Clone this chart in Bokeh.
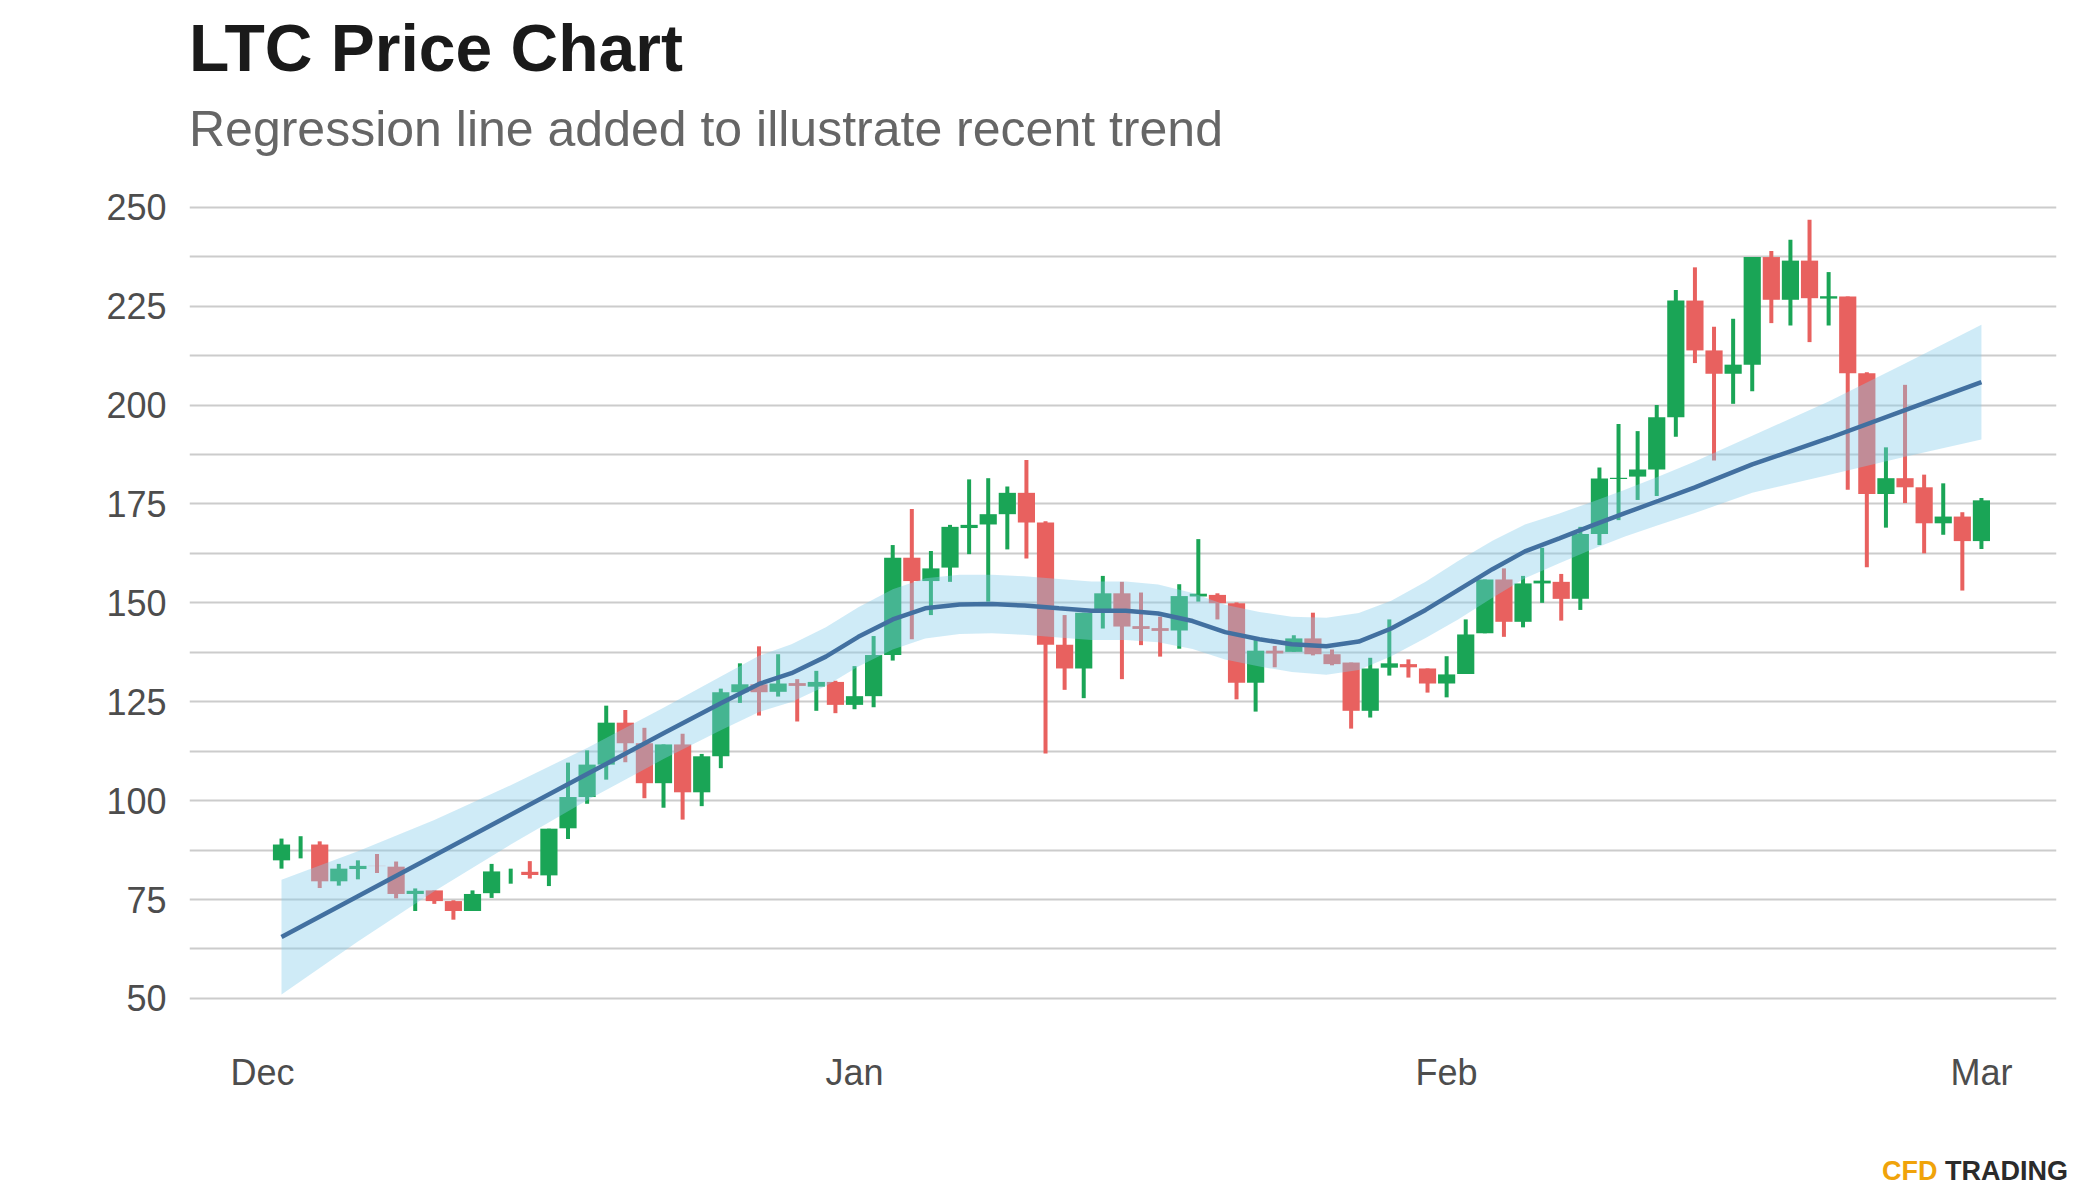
import pandas as pd
from bokeh.plotting import figure
from bokeh.layouts import column
from bokeh.models import FixedTicker, DatetimeTickFormatter, Range1d, ColumnDataSource, Div
from bokeh.embed import file_html
from bokeh.resources import INLINE

# ---------------- data ----------------
start_date = "2020-12-02"
n_days = 90
open_ = [84.9, 87.6, 88.9, 79.6, 82.7, 83.5, 83.3, 76.4, 77.3, 74.6,
         72.1, 76.6, 81.0, 82.0, 81.1, 93.0, 100.9, 109.1, 119.7, 114.5,
         104.4, 114.2, 102.1, 111.2, 127.4, 129.4, 127.5, 129.7, 128.8, 130.0,
         124.2, 126.4, 136.8, 161.4, 155.5, 158.9, 168.9, 169.8, 172.4, 177.8,
         170.3, 139.4, 133.4, 147.5, 152.4, 144.1, 143.6, 143.0, 151.6, 152.0,
         149.9, 129.8, 137.9, 137.6, 141.0, 137.0, 134.9, 122.7, 133.6, 134.5,
         133.4, 129.6, 132.0, 142.3, 155.9, 145.2, 154.9, 155.3, 151.0, 167.4,
         181.3, 181.9, 183.7, 196.9, 226.4, 213.8, 207.9, 210.2, 237.4, 226.6,
         236.5, 226.9, 227.4, 208.0, 177.5, 181.5, 179.2, 170.1, 171.8, 165.6]
high = [90.4, 91.0, 89.7, 84.0, 84.9, 86.5, 84.6, 77.8, 77.3, 74.8,
        77.3, 84.0, 82.8, 84.7, 92.9, 109.6, 112.7, 124.0, 122.9, 118.4,
        114.2, 116.9, 111.8, 128.3, 134.7, 139.0, 137.0, 130.7, 132.8, 130.3,
        134.0, 141.6, 164.6, 173.7, 163.1, 169.7, 181.2, 181.5, 179.4, 186.1,
        170.6, 146.9, 147.5, 156.8, 155.3, 152.6, 146.5, 154.7, 166.1, 152.4,
        150.1, 140.6, 139.1, 141.8, 147.5, 138.2, 134.9, 136.1, 145.8, 135.7,
        133.4, 136.5, 145.8, 155.9, 158.7, 156.8, 163.9, 157.3, 169.2, 184.2,
        195.2, 193.4, 200.0, 229.1, 234.8, 219.8, 221.8, 237.4, 238.9, 241.8,
        246.8, 233.6, 227.4, 208.3, 189.3, 205.1, 182.4, 180.2, 172.9, 176.5]
low = [82.8, 85.4, 77.9, 78.5, 80.1, 81.7, 75.3, 72.1, 73.9, 69.9,
       72.1, 75.4, 79.0, 80.3, 78.4, 90.3, 99.2, 105.3, 109.7, 100.6,
       98.2, 95.2, 98.6, 108.2, 124.7, 121.5, 126.3, 120.0, 122.7, 122.1,
       123.1, 123.6, 135.4, 140.8, 146.9, 155.3, 162.3, 150.3, 163.5, 161.2,
       111.9, 128.0, 125.9, 143.5, 130.7, 139.3, 136.4, 138.4, 150.3, 145.8,
       125.6, 122.5, 133.7, 137.6, 136.7, 134.2, 118.2, 121.0, 131.6, 131.1,
       127.3, 126.1, 132.0, 142.3, 141.4, 143.8, 150.0, 145.5, 148.2, 164.6,
       170.9, 176.0, 177.0, 192.0, 210.6, 186.0, 200.3, 203.5, 220.7, 220.1,
       215.9, 220.1, 178.6, 159.0, 169.0, 175.2, 162.5, 167.2, 153.1, 163.6]
close = [88.9, 87.6, 79.6, 82.8, 83.5, 83.45, 76.4, 77.2, 74.6, 72.1,
         76.4, 82.1, 81.0, 81.2, 92.9, 100.9, 109.1, 119.7, 114.5, 104.4,
         114.2, 102.1, 111.2, 127.4, 129.4, 127.4, 129.6, 129.0, 130.0, 124.2,
         126.4, 136.8, 161.4, 155.5, 158.7, 169.2, 169.7, 172.4, 177.8, 170.3,
         139.4, 133.4, 147.5, 152.4, 144.0, 143.4, 142.9, 151.7, 152.3, 149.9,
         129.8, 137.9, 137.2, 141.0, 137.0, 134.5, 122.7, 133.4, 134.7, 133.7,
         129.6, 131.9, 142.0, 155.9, 145.2, 154.9, 155.6, 151.0, 167.4, 181.4,
         181.6, 183.7, 196.9, 226.4, 213.8, 207.9, 210.2, 237.4, 226.6, 236.5,
         227.0, 227.5, 208.0, 177.5, 181.5, 179.2, 170.1, 171.8, 165.6, 175.9]

# smoothed regression trend (days after start_date)
fit_day = [0, 4, 8, 12, 16, 20, 23, 25, 26.7, 28.5,
           30.2, 32, 33.7, 35.5, 37.2, 38.9, 40.7, 42.4, 44.2, 45.9,
           47.7, 49.4, 51.2, 52.9, 54.7, 56.4, 58.1, 59.9, 61.6, 63.4,
           65.1, 66.9, 68.6, 70.3, 72.1, 74, 77, 81, 85, 89]
fit = [65.5, 75.8, 86.1, 96.4, 106.7, 117.0, 124.6, 129.5, 132.2, 136.4,
       141.4, 145.8, 148.6, 149.6, 149.7, 149.3, 148.6, 148.0, 148.0, 147.3,
       145.4, 142.6, 140.8, 139.5, 139.0, 140.2, 143.5, 148.2, 153.2, 158.5,
       163.0, 166.3, 169.5, 172.6, 175.8, 179.2, 185.0, 191.6, 198.7, 205.8]
fit_lo = [51.0, 64.4, 77.1, 88.9, 100.1, 110.5, 117.8, 122.4, 124.9, 129.0,
          133.9, 138.2, 141.0, 142.1, 142.3, 141.9, 141.2, 140.6, 140.6, 140.0,
          138.3, 135.7, 133.9, 132.5, 131.8, 133.0, 136.5, 141.1, 145.8, 151.3,
          156.2, 160.0, 163.5, 166.7, 169.7, 172.7, 177.8, 182.3, 186.9, 191.3]
fit_hi = [80.0, 87.2, 95.1, 103.9, 113.3, 123.5, 131.4, 136.6, 139.5, 143.8,
          148.9, 153.4, 156.2, 157.1, 157.1, 156.7, 156.0, 155.4, 155.4, 154.6,
          152.5, 149.5, 147.7, 146.5, 146.2, 147.4, 150.5, 155.3, 160.6, 165.7,
          169.8, 172.6, 175.5, 178.5, 181.9, 185.7, 192.2, 200.9, 210.5, 220.3]

y_ticks = [50, 75, 100, 125, 150, 175, 200, 225, 250]
y_grid = [50, 62.5, 75, 87.5, 100, 112.5, 125, 137.5, 150, 162.5, 175, 187.5,
          200, 212.5, 225, 237.5, 250]
month_ticks = ["2020-12-01", "2021-01-01", "2021-02-01", "2021-03-01"]

title_text = "LTC Price Chart"
subtitle_text = "Regression line added to illustrate recent trend"
logo_a = "CFD"
logo_b = "TRADING"

# ---------------- build ----------------
GREEN = "#1aa556"
RED = "#e8615f"
FONT = "Liberation Sans"
W = 2084

dates = pd.date_range(start_date, periods=n_days)
colors = [GREEN if c >= o else RED for o, c in zip(open_, close)]
src = ColumnDataSource(dict(
    x=dates, o=open_, h=high, l=low, c=close,
    top=[max(o, c) for o, c in zip(open_, close)],
    bottom=[min(o, c) for o, c in zip(open_, close)],
    color=colors))
d0 = pd.Timestamp(start_date)
fit_x = [d0 + pd.Timedelta(days=d) for d in fit_day]
fsrc = ColumnDataSource(dict(x=fit_x, fit=fit, lo=fit_lo, hi=fit_hi))

DAY_MS = 86400000
x_start = d0 - pd.Timedelta(days=4.817)
x_end = d0 + pd.Timedelta(days=92.93)

header_html = (
    f'<div style="position:relative;width:{W}px;height:160px;">'
    f'<div style="position:absolute;left:189px;top:15px;white-space:nowrap;'
    f'font-family:\'{FONT}\';font-weight:bold;font-size:66px;line-height:1;'
    f'color:#1a1a1a;">{title_text}</div>'
    f'<div style="position:absolute;left:189px;top:104px;white-space:nowrap;'
    f'font-family:\'{FONT}\';font-size:50px;line-height:1;color:#666666;">'
    f'{subtitle_text}</div></div>')
header = Div(text=header_html, width=W, height=160, margin=0)

p = figure(width=W, height=980, x_axis_type="datetime",
           output_backend="svg", toolbar_location=None,
           x_range=Range1d(x_start, x_end), y_range=Range1d(40.37, 256.5),
           min_border_left=189, min_border_right=28,
           min_border_top=21, min_border_bottom=104, margin=0)
p.outline_line_color = None
p.background_fill_color = "white"
p.border_fill_color = "white"

p.segment(x0="x", y0="l", x1="x", y1="h", color="color", line_width=4, source=src)
p.vbar(x="x", width=0.9 * DAY_MS, top="top", bottom="bottom",
       fill_color="color", line_color=None, source=src)

p.varea(x="x", y1="lo", y2="hi", fill_color="#87ceeb", fill_alpha=0.4, source=fsrc)
p.line(x="x", y="fit", color="#4270a0", line_width=4.5, source=fsrc)

p.yaxis.ticker = FixedTicker(ticks=y_ticks)
p.ygrid.ticker = FixedTicker(ticks=y_grid)
p.ygrid.grid_line_color = "#cccccc"
p.ygrid.grid_line_width = 2
p.xgrid.grid_line_color = None

month_ms = [pd.Timestamp(m).value / 1e6 for m in month_ticks]
p.xaxis.ticker = FixedTicker(ticks=month_ms)
p.xaxis.formatter = DatetimeTickFormatter(days="%b", months="%b", years="%b",
                                          hours="%b", minutes="%b")

for ax in (p.xaxis, p.yaxis):
    ax.axis_line_color = None
    ax.major_tick_line_color = None
    ax.minor_tick_line_color = None
    ax.major_tick_out = 0
    ax.minor_tick_out = 0
    ax.major_label_text_font = FONT
    ax.major_label_text_font_size = "36px"
    ax.major_label_text_color = "#4d4d4d"
p.yaxis.major_label_standoff = 23
p.xaxis.major_label_standoff = 15

footer_html = (
    f'<div style="position:relative;width:{W}px;height:50px;">'
    f'<div style="position:absolute;left:1882px;top:18px;white-space:nowrap;'
    f'font-family:\'{FONT}\';font-weight:bold;font-size:27px;line-height:1;">'
    f'<span style="color:#f0a30a;">{logo_a}</span> '
    f'<span style="color:#2b2b2b;">{logo_b}</span></div></div>')
footer = Div(text=footer_html, width=W, height=50, margin=0)

layout = column(header, p, footer, spacing=0)
open("out.html", "w").write(file_html(layout, INLINE))
